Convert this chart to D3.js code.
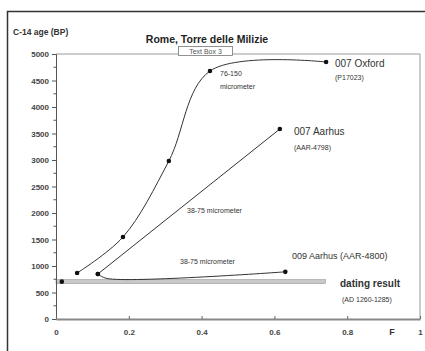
<!DOCTYPE html>
<html>
<head>
<meta charset="utf-8">
<script src="https://cdn.jsdelivr.net/npm/d3@7"></script>
<style>
  body { margin: 0; background: #fff; }
  svg { font-family: "Liberation Sans", Arial, sans-serif; display: block; }
</style>
</head>
<body>
<div id="chart"></div>
<script>
// values: F (x) and C-14 age in BP (y)
const oxfordF = [0.058, 0.184, 0.31, 0.423, 0.742];
const oxfordAge = [868, 1547, 2981, 4679, 4849];
const aarhus4798F = [0.115, 0.615];
const aarhus4798Age = [849, 3585];
const aarhus4800F = [0.115, 0.14, 0.63];
const aarhus4800Age = [850, 765, 890];
const aarhus4800Marked = [true, false, true];
const datingF = [0, 0.74];
const datingAge = 705;
const datingDotF = 0.016;

const yTicks = [0, 500, 1000, 1500, 2000, 2500, 3000, 3500, 4000, 4500, 5000];
const yMinorTicks = [250, 750, 1250, 1750, 2250, 2750, 3250, 3750, 4250, 4750];
const xTicks = [0, 0.2, 0.4, 0.6, 0.8, 1];

const width = 425;
const height = 351;
const margin = { left: 56, right: 5, top: 54, bottom: 32 };

const svg = d3.select("#chart")
  .append("svg")
  .attr("width", width)
  .attr("height", height);

// outer frame (only left and top show in the picture)
svg.append("path")
  .attr("d", `M7.5,${height} V11.5 H${width}`)
  .attr("fill", "none")
  .attr("stroke", "#333")
  .attr("stroke-width", 1.5);

const xScale = d3.scaleLinear()
  .domain([0, 1])
  .range([margin.left, width - margin.right]);

const yScale = d3.scaleLinear()
  .domain([0, 5000])
  .range([height - margin.bottom, margin.top]);

// plot area border top/right
svg.append("path")
  .attr("d", `M${xScale(0)},${yScale(5000)} H${xScale(1)} V${yScale(0)}`)
  .attr("fill", "none")
  .attr("stroke", "#999")
  .attr("stroke-width", 1);

// dating result band
svg.append("rect")
  .attr("x", xScale(datingF[0]))
  .attr("y", yScale(datingAge) - 2)
  .attr("width", xScale(datingF[1]) - xScale(datingF[0]))
  .attr("height", 4)
  .attr("fill", "#c8c8c8")
  .attr("stroke", "#999")
  .attr("stroke-width", 0.6);

// Y-axis
const yAxis = d3.axisLeft(yScale)
  .tickValues(yTicks)
  .tickSize(4)
  .tickFormat(d3.format("d"));

const yAxisG = svg.append("g")
  .attr("transform", `translate(${xScale(0)},0)`)
  .call(yAxis);
yAxisG.select(".domain").attr("stroke", "#555");
yAxisG.selectAll(".tick line").attr("stroke", "#555");
yAxisG.selectAll(".tick text")
  .attr("font-size", "8px")
  .attr("font-weight", "bold")
  .attr("fill", "#444")
  .attr("x", -7);

svg.append("g")
  .selectAll("line")
  .data(yMinorTicks)
  .join("line")
  .attr("x1", xScale(0) - 2.5)
  .attr("x2", xScale(0))
  .attr("y1", d => yScale(d))
  .attr("y2", d => yScale(d))
  .attr("stroke", "#555");

// X-axis
const xAxis = d3.axisBottom(xScale)
  .tickValues(xTicks)
  .tickSizeInner(-3)
  .tickSizeOuter(0)
  .tickPadding(10)
  .tickFormat(d => d === 0 || d === 1 ? d : d3.format(".1f")(d));

const xAxisG = svg.append("g")
  .attr("transform", `translate(0,${yScale(0)})`)
  .call(xAxis);
xAxisG.select(".domain").attr("stroke", "#888").attr("stroke-width", 2);
xAxisG.selectAll(".tick line").attr("stroke", "#666");
xAxisG.selectAll(".tick text")
  .attr("font-size", "8px")
  .attr("font-weight", "bold")
  .attr("fill", "#444");

svg.append("text")
  .text("F")
  .attr("x", 392)
  .attr("y", 335)
  .attr("text-anchor", "middle")
  .attr("font-size", "9px")
  .attr("font-weight", "bold")
  .attr("fill", "#333");

// series lines
const line = d3.line()
  .x(d => xScale(d[0]))
  .y(d => yScale(d[1]))
  .curve(d3.curveCatmullRom.alpha(0.5));

const oxford = oxfordF.map((f, i) => [f, oxfordAge[i]]);
const aarhus4798 = aarhus4798F.map((f, i) => [f, aarhus4798Age[i]]);
const aarhus4800 = aarhus4800F.map((f, i) => [f, aarhus4800Age[i]]);

[oxford, aarhus4798, aarhus4800].forEach(s => {
  svg.append("path")
    .datum(s)
    .attr("d", line)
    .attr("fill", "none")
    .attr("stroke", "#333")
    .attr("stroke-width", 1);
});

const markers = oxford
  .concat(aarhus4798)
  .concat(aarhus4800.filter((d, i) => aarhus4800Marked[i]))
  .concat([[datingDotF, datingAge]]);

svg.append("g")
  .selectAll("circle")
  .data(markers)
  .join("circle")
  .attr("cx", d => xScale(d[0]))
  .attr("cy", d => yScale(d[1]))
  .attr("r", 2.3)
  .attr("fill", "#111");

// titles
svg.append("text")
  .text("C-14 age (BP)")
  .attr("x", 13)
  .attr("y", 35)
  .attr("font-size", "8.5px")
  .attr("font-weight", "bold")
  .attr("fill", "#333");

svg.append("text")
  .text("Rome, Torre delle Milizie")
  .attr("x", 207)
  .attr("y", 43)
  .attr("text-anchor", "middle")
  .attr("font-size", "10.5px")
  .attr("font-weight", "bold")
  .attr("fill", "#222");

// "Text Box 3" leftover box
svg.append("rect")
  .attr("x", 178.5)
  .attr("y", 46.5)
  .attr("width", 54)
  .attr("height", 9)
  .attr("fill", "#fff")
  .attr("stroke", "#777")
  .attr("stroke-width", 0.8);
svg.append("text")
  .text("Text Box 3")
  .attr("x", 205.5)
  .attr("y", 54)
  .attr("text-anchor", "middle")
  .attr("font-size", "7px")
  .attr("fill", "#555");

// annotations
const labels = [
  { text: "007 Oxford", x: 335, y: 67, size: 10, weight: "normal" },
  { text: "(P17023)", x: 335, y: 80, size: 7, weight: "normal" },
  { text: "76-150", x: 220, y: 76, size: 7, weight: "normal" },
  { text: "micrometer", x: 220, y: 89, size: 7, weight: "normal" },
  { text: "007 Aarhus", x: 294, y: 135, size: 10, weight: "normal" },
  { text: "(AAR-4798)", x: 294, y: 150, size: 7, weight: "normal" },
  { text: "38-75 micrometer", x: 187, y: 213, size: 7, weight: "normal" },
  { text: "38-75 micrometer", x: 180, y: 264, size: 7, weight: "normal" },
  { text: "009 Aarhus (AAR-4800)", x: 292, y: 259, size: 9, weight: "normal" },
  { text: "dating result", x: 340, y: 287, size: 10, weight: "bold" },
  { text: "(AD 1260-1285)", x: 342, y: 302, size: 7, weight: "normal" }
];

svg.append("g")
  .selectAll("text")
  .data(labels)
  .join("text")
  .attr("x", d => d.x)
  .attr("y", d => d.y)
  .attr("font-size", d => d.size + "px")
  .attr("font-weight", d => d.weight)
  .attr("fill", "#333")
  .text(d => d.text);
</script>
</body>
</html>
